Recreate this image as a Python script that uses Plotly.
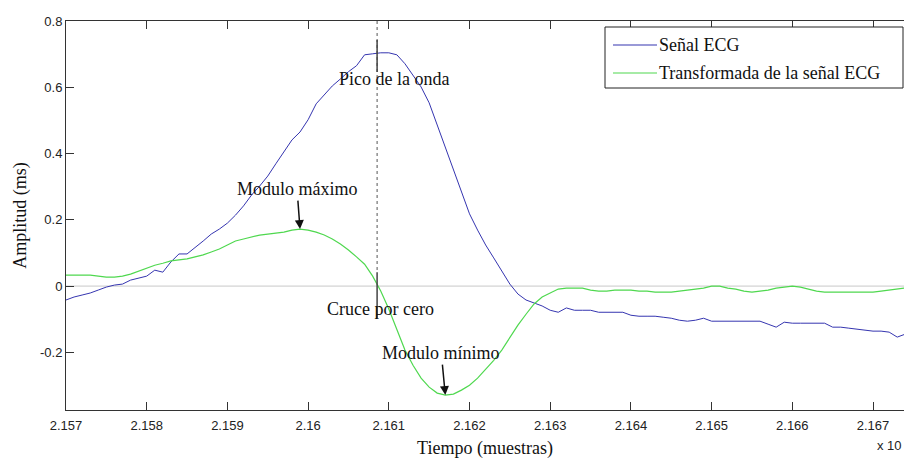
import numpy as np
import plotly.graph_objects as go

# Sample index (axis shown in units of 10^4 samples)
samples = list(range(21570, 21675))

ecg = [
    -0.042, -0.033, -0.027, -0.021, -0.012, -0.003, 0.003, 0.006, 0.018, 0.024,
    0.030, 0.048, 0.042, 0.073, 0.097, 0.097, 0.118, 0.136, 0.157, 0.172,
    0.190, 0.214, 0.242, 0.275, 0.302, 0.332, 0.369, 0.405, 0.441, 0.465,
    0.502, 0.550, 0.577, 0.604, 0.625, 0.647, 0.665, 0.698, 0.701, 0.704,
    0.704, 0.698, 0.671, 0.634, 0.601, 0.553, 0.486, 0.414, 0.353, 0.281,
    0.218, 0.169, 0.124, 0.085, 0.045, 0.006, -0.024, -0.042, -0.051, -0.060,
    -0.073, -0.079, -0.066, -0.073, -0.073, -0.073, -0.079, -0.079, -0.079, -0.079,
    -0.088, -0.091, -0.091, -0.091, -0.094, -0.097, -0.103, -0.106, -0.103, -0.097,
    -0.106, -0.106, -0.106, -0.106, -0.106, -0.106, -0.106, -0.115, -0.124, -0.109,
    -0.112, -0.112, -0.112, -0.112, -0.112, -0.124, -0.124, -0.127, -0.130, -0.133,
    -0.136, -0.136, -0.139, -0.154, -0.145,
]

transform = [
    0.033, 0.033, 0.033, 0.033, 0.030, 0.027, 0.027, 0.030, 0.036, 0.045,
    0.054, 0.063, 0.069, 0.076, 0.079, 0.082, 0.088, 0.094, 0.103, 0.112,
    0.124, 0.136, 0.142, 0.148, 0.154, 0.157, 0.160, 0.163, 0.169, 0.172,
    0.169, 0.163, 0.154, 0.142, 0.127, 0.109, 0.088, 0.066, 0.030, -0.015,
    -0.069, -0.133, -0.193, -0.239, -0.278, -0.305, -0.323, -0.329, -0.326, -0.314,
    -0.299, -0.278, -0.251, -0.224, -0.193, -0.154, -0.118, -0.085, -0.054, -0.033,
    -0.021, -0.009, -0.006, -0.006, -0.006, -0.012, -0.015, -0.015, -0.012, -0.012,
    -0.012, -0.015, -0.015, -0.018, -0.018, -0.018, -0.015, -0.012, -0.009, -0.006,
    0.000, 0.000, -0.006, -0.009, -0.015, -0.018, -0.015, -0.012, -0.006, -0.003,
    0.000, -0.003, -0.009, -0.015, -0.018, -0.018, -0.018, -0.018, -0.018, -0.018,
    -0.018, -0.015, -0.012, -0.009, -0.006,
]

x_ticks = [2.157, 2.158, 2.159, 2.16, 2.161, 2.162, 2.163, 2.164, 2.165, 2.166, 2.167]
x_tick_text = ["2.157", "2.158", "2.159", "2.16", "2.161", "2.162", "2.163",
               "2.164", "2.165", "2.166", "2.167"]
y_ticks = [-0.2, 0, 0.2, 0.4, 0.6, 0.8]
y_tick_text = ["-0.2", "0", "0.2", "0.4", "0.6", "0.8"]

series_names = ["Señal ECG", "Transformada de la señal ECG"]
series_colors = ["#3535b0", "#4fd84f"]

# Marked events on the transform: peak / zero crossing time, max and min samples
peak_time = 2.160855
max_sample = 21599
min_sample = 21617

x = np.array(samples) / 1e4
x_range = [2.157, 2.167384]
y_range = [-0.374, 0.8]

serif = "Liberation Serif, Times New Roman, serif"
sans = "Liberation Sans, Arial, sans-serif"
txt_size = 18
tick_size = 13

fig = go.Figure()
fig.add_trace(go.Scatter(x=x, y=ecg, mode="lines", name=series_names[0],
                         line=dict(color=series_colors[0], width=1), showlegend=False))
fig.add_trace(go.Scatter(x=x, y=transform, mode="lines", name=series_names[1],
                         line=dict(color=series_colors[1], width=1.2), showlegend=False))

shapes = [
    # zero reference line
    dict(type="line", xref="paper", yref="y", x0=0, x1=1, y0=0, y1=0,
         line=dict(color="#c8c8c8", width=1), layer="below"),
    # dotted marker through the wave peak
    dict(type="line", xref="x", yref="y", x0=peak_time, x1=peak_time, y0=0.8, y1=0.04,
         line=dict(color="#555555", width=1, dash="dot")),
    # short solid marks near the labels
    dict(type="line", xref="x", yref="y", x0=peak_time, x1=peak_time, y0=0.743, y1=0.646,
         line=dict(color="#444444", width=1.5)),
    dict(type="line", xref="x", yref="y", x0=peak_time, x1=peak_time, y0=0.042, y1=-0.097,
         line=dict(color="#444444", width=1.5)),
]

# legend box drawn in paper coordinates
W, L, T, B = 838.0, 66.0, 21.0, 410.0
def px(p):
    return (p - L) / W
def py(p):
    return (B - p) / (B - T)

shapes.append(dict(type="rect", xref="paper", yref="paper",
                   x0=px(605), x1=px(903), y0=py(88), y1=py(27),
                   line=dict(color="#222222", width=1), fillcolor="white"))
legend_rows = [45, 73]
for name, col, row in zip(series_names, series_colors, legend_rows):
    shapes.append(dict(type="line", xref="paper", yref="paper",
                       x0=px(613), x1=px(657), y0=py(row), y1=py(row),
                       line=dict(color=col, width=1.2)))

annotations = []
for name, row in zip(series_names, legend_rows):
    annotations.append(dict(xref="paper", yref="paper", x=px(657), y=py(row),
                            text=name, showarrow=False, xanchor="left", yanchor="middle",
                            font=dict(family=serif, size=txt_size, color="#111111")))

i_max = samples.index(max_sample)
i_min = samples.index(min_sample)
annotations += [
    dict(x=peak_time, y=0.626, xref="x", yref="y", text="Pico de la onda", showarrow=False,
         xshift=17, font=dict(family=serif, size=txt_size, color="#111111")),
    dict(x=peak_time, y=-0.068, xref="x", yref="y", text="Cruce por cero", showarrow=False,
         xshift=3, font=dict(family=serif, size=txt_size, color="#111111")),
    dict(x=x[i_max], y=transform[i_max], xref="x", yref="y", text="Modulo máximo",
         showarrow=True, ax=-3, ay=-40, arrowhead=2, arrowsize=1.2, arrowwidth=1.5,
         arrowcolor="#111111", font=dict(family=serif, size=txt_size, color="#111111")),
    dict(x=x[i_min], y=transform[i_min], xref="x", yref="y", text="Modulo mínimo",
         showarrow=True, ax=-4, ay=-42, arrowhead=2, arrowsize=1.2, arrowwidth=1.5,
         arrowcolor="#111111", font=dict(family=serif, size=txt_size, color="#111111")),
    dict(xref="paper", yref="paper", x=1.0, y=py(445), text="x 10", showarrow=False,
         xanchor="right", yanchor="middle", font=dict(family=sans, size=tick_size, color="#222222")),
]

fig.update_layout(
    width=904, height=459,
    margin=dict(l=66, r=0, t=21, b=49),
    paper_bgcolor="white", plot_bgcolor="white",
    shapes=shapes, annotations=annotations,
    xaxis=dict(range=x_range, tickvals=x_ticks, ticktext=x_tick_text,
               ticks="inside", ticklen=8, tickcolor="#333333",
               showline=True, linecolor="#333333", linewidth=1, mirror="ticks",
               showgrid=False, zeroline=False, ticklabelstandoff=3,
               tickfont=dict(family=sans, size=tick_size, color="#222222"),
               title=dict(text="Tiempo (muestras)", standoff=11,
                          font=dict(family=serif, size=txt_size, color="#111111"))),
    yaxis=dict(range=y_range, tickvals=y_ticks, ticktext=y_tick_text,
               ticks="inside", ticklen=8, tickcolor="#333333",
               showline=True, linecolor="#333333", linewidth=1,
               showgrid=False, zeroline=False,
               tickfont=dict(family=sans, size=tick_size, color="#222222"),
               title=dict(text="Amplitud (ms)", standoff=8,
                          font=dict(family=serif, size=txt_size, color="#111111"))),
)

fig.write_html("out.html")
